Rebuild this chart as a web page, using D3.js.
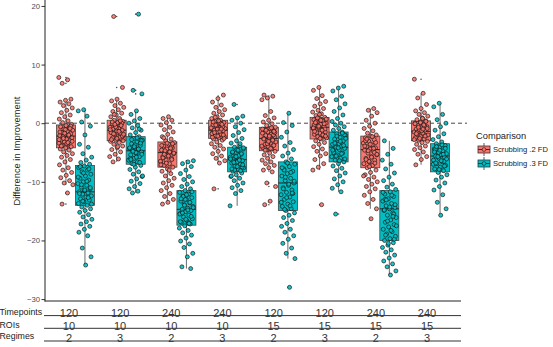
<!DOCTYPE html>
<html>
<head>
<meta charset="utf-8">
<script src="https://cdn.jsdelivr.net/npm/d3@7"></script>
<style>
  body { margin: 0; background: #fff; }
  svg text { font-family: "Liberation Sans", Arial, sans-serif; }
</style>
</head>
<body>
<div id="chart"></div>
<script>
// table rows under the plot
const timepoints = ["120", "120", "240", "240", "120", "120", "240", "240"];
const rois = ["10", "10", "10", "10", "15", "15", "15", "15"];
const regimes = ["2", "3", "2", "3", "2", "3", "2", "3"];
const series = ["Scrubbing .2 FD", "Scrubbing .3 FD"];
const colors = ["#F8766D", "#00BFC4"];
const yTicks = [-30, -20, -10, 0, 10, 20];

// box stats: [lower whisker, q1, median, q3, upper whisker]
const stats02 = [
  [-10.5, -4.2, -2.2, -0.3, 4.1],
  [-6.6, -3.0, -1.2, 0.5, 4.1],
  [-13.8, -7.5, -5.0, -3.2, 1.1],
  [-6.8, -2.6, -1.2, 0.5, 4.8],
  [-8.3, -4.7, -2.6, -0.7, 4.8],
  [-8.0, -2.7, -0.7, 1.0, 6.1],
  [-14.6, -7.6, -4.5, -2.2, 2.5],
  [-7.1, -3.0, -1.4, 0.4, 5.1]
];
const stats03 = [
  [-24.2, -14.0, -11.7, -7.2, 2.4],
  [-11.9, -7.0, -4.7, -2.3, 2.1],
  [-24.8, -17.4, -14.7, -11.5, -6.5],
  [-14.1, -8.3, -6.2, -4.1, 1.2],
  [-23.1, -14.9, -10.2, -6.6, 1.7],
  [-11.7, -6.6, -4.1, -1.5, 6.3],
  [-25.9, -20.0, -14.6, -11.5, -3.0],
  [-15.7, -8.3, -5.6, -3.5, 3.4]
];

// individual differences
const points02 = [
  [7.8,7.4,6.8,4.1,3.9,3.6,3.3,3.0,2.6,2.2,1.8,1.4,1.1,0.7,0.4,0.1,-0.2,-0.4,-0.6,-0.8,-1.0,-1.2,-1.4,-1.6,-1.8,-1.9,-2.1,-2.2,-2.3,-2.5,-2.7,-2.9,-3.0,-3.2,-3.4,-3.6,-3.8,-4.0,-4.2,-4.4,-4.6,-4.9,-5.2,-5.5,-5.8,-6.2,-6.6,-7.1,-7.6,-8.0,-8.4,-8.9,-9.3,-9.8,-10.2,-10.5,-11.9,-13.8,-0.5,-1.1,-1.5,-2.0,-2.6,-3.1,-3.5,-3.9,-0.9,-1.7,-2.8,-3.3],
  [18.2,6.1,4.1,3.8,3.4,3.0,2.7,2.3,2.0,1.7,1.4,1.1,0.8,0.5,0.3,0.1,-0.1,-0.3,-0.5,-0.7,-0.9,-1.0,-1.2,-1.3,-1.5,-1.7,-1.9,-2.1,-2.3,-2.5,-2.7,-2.9,-3.1,-3.3,-3.6,-3.9,-4.2,-4.5,-4.9,-5.3,-5.7,-6.1,-6.6,0.0,-0.8,-1.6,-2.4,1.5,-3.0,-4.0,0.2,-0.4,-0.6,-1.1,-1.4,-1.8,-2.2,-2.6,-2.8,0.4,-0.2,-1.9],
  [1.1,0.8,0.5,0.1,-0.3,-0.7,-1.1,-1.5,-1.9,-2.3,-2.7,-3.0,-3.3,-3.6,-3.9,-4.2,-4.4,-4.6,-4.8,-5.0,-5.2,-5.4,-5.7,-6.0,-6.3,-6.6,-6.9,-7.2,-7.5,-7.8,-8.2,-8.6,-9.0,-9.4,-9.8,-10.2,-10.6,-11.0,-11.5,-12.0,-12.5,-13.0,-13.5,-13.8,-4.0,-5.5,-6.5,-8.0,-2.5,-3.5,-3.4,-3.8,-4.3,-4.7,-5.1,-5.6,-5.9,-6.2,-6.8,-7.1,-4.9,-5.3],
  [4.8,4.2,3.6,3.1,2.7,2.3,2.0,1.7,1.4,1.1,0.8,0.5,0.3,0.1,-0.1,-0.3,-0.5,-0.7,-0.9,-1.1,-1.2,-1.3,-1.5,-1.7,-1.9,-2.1,-2.3,-2.5,-2.7,-2.9,-3.2,-3.5,-3.8,-4.1,-4.4,-4.8,-5.2,-5.6,-6.0,-6.4,-6.8,-11.2,-0.6,-1.0,-1.8,0.0,1.0,-2.6,0.4,0.2,-0.2,-0.4,-0.8,-1.4,-1.6,-2.0,-2.2,-2.4,-1.0,-0.3],
  [4.8,4.6,4.3,4.0,2.0,1.3,0.9,0.5,0.2,-0.1,-0.4,-0.7,-0.9,-1.1,-1.3,-1.5,-1.7,-1.9,-2.1,-2.3,-2.5,-2.6,-2.8,-3.0,-3.2,-3.4,-3.6,-3.8,-4.0,-4.2,-4.4,-4.6,-4.8,-5.1,-5.4,-5.7,-6.0,-6.3,-6.6,-6.9,-7.2,-7.6,-8.0,-8.3,-10.2,-10.8,-13.3,-13.9,-2.0,-3.3,-1.0,-0.8,-1.2,-1.6,-2.2,-2.7,-2.9,-3.5,-3.9,-4.3,-4.6,-1.4,-3.1],
  [6.1,5.6,4.7,4.2,3.7,3.3,2.9,2.5,2.2,1.9,1.6,1.3,1.0,0.8,0.6,0.4,0.2,0.0,-0.2,-0.4,-0.6,-0.7,-0.9,-1.1,-1.3,-1.5,-1.7,-1.9,-2.1,-2.3,-2.5,-2.7,-3.0,-3.3,-3.6,-4.0,-4.4,-4.8,-5.2,-5.6,-6.2,-6.9,-7.5,-8.0,-13.9,0.3,-1.0,1.5,-0.3,-2.0,0.9,0.7,0.5,0.1,-0.1,-0.5,-0.8,-1.2,-1.6,-2.2,-2.6,-1.4],
  [2.5,2.2,1.8,1.2,0.5,0.0,-0.5,-0.9,-1.3,-1.7,-2.0,-2.2,-2.5,-2.8,-3.1,-3.4,-3.7,-4.0,-4.2,-4.4,-4.6,-4.8,-5.1,-5.4,-5.7,-6.0,-6.3,-6.6,-6.9,-7.2,-7.6,-8.0,-8.4,-8.8,-9.2,-9.6,-10.0,-10.4,-10.8,-11.2,-11.7,-12.3,-13.0,-13.7,-14.6,-16.3,-3.0,-5.0,-6.5,-9.0,-2.3,-2.7,-3.3,-3.6,-3.9,-4.3,-4.7,-5.3,-5.8,-6.2,-6.8,-7.4],
  [7.5,5.1,4.3,3.2,2.5,2.1,1.8,1.5,1.2,0.9,0.6,0.4,0.2,0.0,-0.2,-0.4,-0.6,-0.8,-1.0,-1.2,-1.4,-1.5,-1.7,-1.9,-2.1,-2.3,-2.5,-2.7,-2.9,-3.1,-3.3,-3.6,-3.9,-4.2,-4.5,-4.9,-5.3,-5.7,-6.2,-7.1,-0.5,-1.1,-2.0,0.8,-1.6,0.3,0.1,-0.1,-0.3,-0.7,-0.9,-1.3,-1.8,-2.2,-2.6,-2.8,-1.0]
];
const points03 = [
  [2.3,2.1,1.2,0.2,-0.5,-2.0,-3.6,-4.1,-5.2,-5.8,-6.3,-6.7,-7.0,-7.3,-7.6,-8.0,-8.3,-8.7,-9.0,-9.4,-9.7,-10.0,-10.3,-10.6,-10.9,-11.2,-11.5,-11.7,-11.9,-12.1,-12.4,-12.6,-12.9,-13.1,-13.4,-13.7,-14.0,-14.3,-14.6,-14.9,-15.2,-15.6,-16.0,-16.4,-16.8,-17.2,-17.6,-18.1,-18.6,-19.2,-21.3,-22.8,-24.2,-7.4,-7.8,-8.5,-9.2,-9.9,-10.5,-11.0,-11.4,-12.0,-12.7,-13.3,-13.8],
  [18.6,5.6,5.0,2.1,1.5,0.8,0.4,0.0,-0.4,-0.8,-1.2,-1.6,-2.0,-2.3,-2.6,-2.9,-3.2,-3.5,-3.8,-4.1,-4.3,-4.5,-4.7,-4.9,-5.1,-5.4,-5.7,-6.0,-6.3,-6.6,-6.9,-7.2,-7.5,-7.9,-8.3,-8.7,-9.1,-9.5,-9.9,-10.3,-10.8,-11.2,-11.6,-11.9,-3.0,-5.0,-6.0,-1.0,-7.0,-9.0,-2.5,-2.8,-3.4,-3.7,-4.2,-4.4,-4.8,-5.3,-5.8,-6.2,-6.7,-4.0],
  [-6.4,-6.6,-6.9,-7.4,-8.0,-8.6,-9.1,-9.6,-10.0,-10.4,-10.8,-11.2,-11.5,-11.8,-12.1,-12.4,-12.7,-13.0,-13.3,-13.6,-13.9,-14.2,-14.5,-14.7,-14.9,-15.1,-15.4,-15.7,-16.0,-16.3,-16.6,-16.9,-17.2,-17.5,-17.9,-18.3,-18.7,-19.1,-19.6,-20.1,-20.6,-21.2,-22.2,-22.8,-24.5,-24.8,-13.0,-15.5,-17.0,-12.5,-11.7,-12.2,-12.9,-13.5,-14.0,-14.4,-14.8,-15.3,-15.9,-16.4,-16.8,-17.1],
  [3.2,1.2,0.9,0.5,0.0,-0.6,-1.1,-1.6,-2.1,-2.6,-3.0,-3.4,-3.8,-4.1,-4.4,-4.7,-5.0,-5.3,-5.6,-5.8,-6.0,-6.2,-6.4,-6.6,-6.8,-7.0,-7.3,-7.6,-7.9,-8.2,-8.5,-8.8,-9.1,-9.4,-9.8,-10.2,-10.6,-11.0,-11.5,-12.0,-14.1,-5.5,-6.5,-7.5,-4.5,-9.0,-3.5,-8.0,-4.2,-4.6,-4.9,-5.2,-5.7,-6.1,-6.3,-6.7,-7.1,-7.4,-7.8,-8.1],
  [1.7,0.1,-0.4,-1.5,-2.4,-3.3,-3.9,-4.5,-5.1,-5.6,-6.1,-6.6,-7.0,-7.4,-7.8,-8.2,-8.6,-9.0,-9.4,-9.8,-10.2,-10.6,-11.0,-11.4,-11.8,-12.2,-12.6,-13.0,-13.4,-13.8,-14.2,-14.6,-14.9,-15.3,-15.7,-16.1,-16.6,-17.1,-17.6,-18.1,-18.6,-19.2,-19.8,-20.5,-21.3,-22.2,-23.1,-28.0,-8.0,-12.0,-6.8,-7.6,-8.4,-9.2,-9.9,-10.4,-11.2,-11.9,-12.7,-13.5,-14.1,-14.7],
  [6.3,6.0,5.5,4.6,4.0,3.3,2.6,2.0,1.4,0.8,0.3,0.0,-0.3,-0.6,-0.9,-1.2,-1.5,-1.8,-2.1,-2.4,-2.7,-3.0,-3.3,-3.6,-3.9,-4.1,-4.3,-4.5,-4.8,-5.1,-5.4,-5.7,-6.0,-6.3,-6.6,-6.9,-7.3,-7.7,-8.1,-8.5,-9.0,-9.5,-10.0,-10.5,-11.1,-11.7,-15.5,-2.0,-3.5,-5.0,-1.7,-2.2,-2.6,-3.1,-3.4,-3.8,-4.2,-4.6,-5.2,-5.6,-6.1,-6.4],
  [-3.0,-4.3,-5.3,-6.3,-7.0,-7.8,-8.5,-9.2,-9.8,-10.4,-10.9,-11.3,-11.7,-12.1,-12.5,-12.9,-13.3,-13.7,-14.1,-14.4,-14.6,-14.9,-15.3,-15.7,-16.1,-16.5,-16.9,-17.3,-17.7,-18.1,-18.5,-18.9,-19.3,-19.7,-20.0,-20.4,-20.8,-21.2,-21.6,-22.0,-22.5,-23.0,-23.5,-24.0,-24.5,-25.2,-25.9,-13.0,-15.5,-20.5,-11.8,-12.3,-13.1,-13.9,-14.3,-14.8,-15.9,-16.7,-17.5,-18.3,-19.1,-19.8],
  [3.4,2.8,1.5,0.6,0.0,-0.6,-1.2,-1.8,-2.3,-2.8,-3.2,-3.5,-3.8,-4.1,-4.4,-4.7,-5.0,-5.2,-5.4,-5.6,-5.8,-6.0,-6.3,-6.6,-6.9,-7.2,-7.5,-7.8,-8.1,-8.4,-8.8,-9.2,-9.7,-10.2,-10.8,-11.4,-12.2,-13.5,-14.6,-15.7,-4.5,-6.5,-5.0,-7.0,-3.7,-4.0,-4.3,-4.6,-4.9,-5.3,-5.7,-6.1,-6.4,-6.8,-7.3,-7.9]
];

const width = 553, height = 347;
const svg = d3.select("#chart").append("svg")
  .attr("width", width)
  .attr("height", height);

const idx = d3.range(timepoints.length);
const x = d3.scalePoint().domain(idx).range([45, 461]).padding(0.6);
const step = x.step();
const dodge = [-0.1875 * step, 0.1875 * step];
const boxW = 0.375 * step;
const y = d3.scaleLinear().domain([-30.33, 20.93]).range([301, 0.5]);

const statsAll = [stats02, stats03];
const pointsAll = [points02, points03];

// dashed reference line at 0
svg.append("line")
  .attr("x1", 45).attr("x2", 467)
  .attr("y1", y(0)).attr("y2", y(0))
  .attr("stroke", "#333").attr("stroke-width", 0.9)
  .attr("stroke-dasharray", "4,3");

// boxes
statsAll.forEach((stats, s) => {
  const g = svg.append("g");
  stats.forEach((d, i) => {
    const cx = x(i) + dodge[s];
    g.append("line")
      .attr("x1", cx).attr("x2", cx)
      .attr("y1", y(d[4])).attr("y2", y(d[0]))
      .attr("stroke", "#444").attr("stroke-width", 0.8);
    g.append("rect")
      .attr("x", cx - boxW / 2).attr("width", boxW)
      .attr("y", y(d[3])).attr("height", y(d[1]) - y(d[3]))
      .attr("fill", colors[s])
      .attr("stroke", "#444").attr("stroke-width", 0.8);
    g.append("line")
      .attr("x1", cx - boxW / 2).attr("x2", cx + boxW / 2)
      .attr("y1", y(d[2])).attr("y2", y(d[2]))
      .attr("stroke", "#333").attr("stroke-width", 1.2);
    // boxplot outliers (small dots at the box centre)
    pointsAll[s][i].filter(v => v < d[0] || v > d[4]).forEach(v => {
      g.append("circle").attr("cx", cx).attr("cy", y(v)).attr("r", 0.8).attr("fill", "#555");
    });
  });
});

// jittered points
const jit = 0.14 * step;
pointsAll.forEach((pts, s) => {
  pts.forEach((vals, i) => {
    const cx = x(i) + dodge[s];
    svg.append("g").selectAll("circle")
      .data(vals)
      .join("circle")
      .attr("cx", (v, k) => cx + (((k * 0.618034 + i * 0.29 + s * 0.41) % 1) - 0.5) * 2 * jit)
      .attr("cy", v => y(v))
      .attr("r", 2)
      .attr("fill", colors[s])
      .attr("fill-opacity", 0.9)
      .attr("stroke", "#111")
      .attr("stroke-width", 0.65);
  });
});

// axes
const yAxis = svg.append("g").attr("transform", "translate(45,0)")
  .call(d3.axisLeft(y).tickValues(yTicks).tickSize(3.5).tickPadding(1.5)
    .tickFormat(d => d < 0 ? "\u2212" + Math.abs(d) : d));
yAxis.select(".domain").remove();
yAxis.selectAll(".tick line").attr("stroke", "#333");
yAxis.selectAll(".tick text").attr("fill", "#4d4d4d").style("font-size", "7.7px");

svg.append("line").attr("x1", 45).attr("x2", 45).attr("y1", 0).attr("y2", 301.5)
  .attr("stroke", "#222").attr("stroke-width", 1);
svg.append("line").attr("x1", 44.5).attr("x2", 461).attr("y1", 301).attr("y2", 301)
  .attr("stroke", "#222").attr("stroke-width", 1);

svg.append("text")
  .attr("transform", "translate(20,151) rotate(-90)")
  .attr("text-anchor", "middle")
  .attr("fill", "#222")
  .style("font-size", "9.3px")
  .text("Difference in Improvement");

// table below the plot
const tx = d3.scalePoint().domain(idx).range([38.3, 457.7]).padding(0.6);
const rows = [
  { name: "Timepoints", vals: timepoints, line: 315.6, base: 317, labelBase: 315.3 },
  { name: "ROIs", vals: rois, line: 328.3, base: 330, labelBase: 328 },
  { name: "Regimes", vals: regimes, line: 341, base: 341.8, labelBase: 338.8 }
];
rows.forEach(r => {
  svg.append("text").attr("x", -0.5).attr("y", r.labelBase)
    .attr("fill", "#222").style("font-size", "8.8px").text(r.name);
  svg.append("line").attr("x1", 44).attr("x2", 461)
    .attr("y1", r.line).attr("y2", r.line)
    .attr("stroke", "#333").attr("stroke-width", 1);
  svg.append("g").selectAll("text")
    .data(r.vals)
    .join("text")
    .attr("x", (d, i) => tx(i))
    .attr("y", r.base)
    .attr("text-anchor", "middle")
    .attr("fill", "#333")
    .style("font-size", "11px")
    .text(d => d);
});

// legend
const legend = svg.append("g");
legend.append("text").attr("x", 476).attr("y", 138.5)
  .attr("fill", "#222").style("font-size", "9.3px").text("Comparison");
series.forEach((name, s) => {
  const cy = 149.5 + s * 14;
  const cx = 484;
  legend.append("line").attr("x1", cx).attr("x2", cx)
    .attr("y1", cy - 6.5).attr("y2", cy + 6.5)
    .attr("stroke", "#333").attr("stroke-width", 0.8);
  legend.append("rect").attr("x", cx - 6).attr("y", cy - 3.5)
    .attr("width", 12).attr("height", 7)
    .attr("fill", colors[s]).attr("stroke", "#333").attr("stroke-width", 0.8);
  legend.append("line").attr("x1", cx - 6).attr("x2", cx + 6)
    .attr("y1", cy).attr("y2", cy)
    .attr("stroke", "#333").attr("stroke-width", 1);
  legend.append("circle").attr("cx", cx).attr("cy", cy).attr("r", 1.9)
    .attr("fill", colors[s]).attr("stroke", "#000").attr("stroke-width", 0.5);
  legend.append("text").attr("x", 493).attr("y", cy + 2.7)
    .attr("fill", "#222").style("font-size", "7.6px").text(name);
});
</script>
</body>
</html>
